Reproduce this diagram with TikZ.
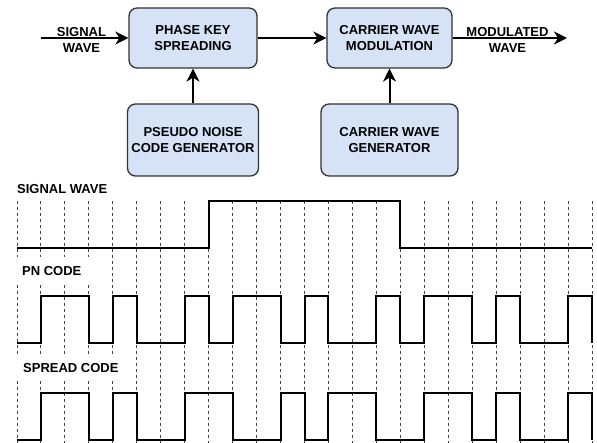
\documentclass[tikz,border=0pt]{standalone}
\usepackage{fontspec}
\setmainfont{Liberation Sans}
\usepackage{xcolor}
\usetikzlibrary{arrows.meta}
\definecolor{boxfill}{HTML}{D6E3F7}
\definecolor{boxline}{HTML}{333333}
\definecolor{gridline}{HTML}{444444}

\begin{document}
\begin{tikzpicture}[
    x=1pt, y=-1pt,
    block/.style={draw=boxline, fill=boxfill, rounded corners=8pt,
                  minimum width=128pt, minimum height=60pt, align=center,
                  font=\fontsize{13}{16}\selectfont\bfseries, line width=1.3pt},
    gen/.style={block, minimum height=72pt},
    lbl/.style={align=center, inner sep=0pt,
                font=\fontsize{13}{16}\selectfont\bfseries},
    wavelbl/.style={fill=white, anchor=west, inner xsep=8pt,
                    minimum height=27pt, font=\fontsize{13}{15}\selectfont\bfseries},
    conn/.style={draw=black, line width=2pt,
                 -{Stealth[length=13pt, width=13pt, inset=4pt]}},
    wave/.style={draw=black, line width=2pt},
    gridl/.style={draw=gridline, line width=1pt, dash pattern=on 3pt off 3pt},
]
\useasboundingbox (0,0) rectangle (597,443);

% Bloques
\node[block] (phase) at (193,38) {PHASE KEY\\SPREADING};
\node[block, minimum width=125pt] (carrmod) at (389.5,38) {CARRIER WAVE\\MODULATION};
\node[gen, minimum width=131pt] (pngen) at (193,140) {PSEUDO NOISE\\CODE GENERATOR};
\node[gen, minimum width=137pt] (carrgen) at (389.5,140) {CARRIER WAVE\\GENERATOR};

\coordinate (sigin) at (41,38);
\coordinate (modout) at (567,38);

% Conexiones
\draw[conn] (sigin) -- (phase);
\draw[conn] (phase) -- (carrmod);
\draw[conn] (carrmod) -- (modout);
\draw[conn] (pngen) -- (phase);
\draw[conn] (carrgen) -- (carrmod);

\node[lbl] (siglbl) at (81.5,40) {SIGNAL\\WAVE};
\node[lbl] (modlbl) at (507.5,40) {MODULATED\\WAVE};

% Formas de onda
\begin{scope}[xshift=17pt, x=23.96pt]
\foreach \k in {0,...,24}
    \draw[gridl] (\k,201) -- (\k,443);

\draw[wave] (0,248) -- (8,248) |- (16,201) |- (24,248);

\draw[wave] (0,343) -- (1,343) |- (3,296) |- (4,343) |- (5,296) |- (7,343)
    |- (8,296) |- (9,343) |- (11,296) |- (12,343) |- (13,296) |- (15,343)
    |- (16,296) |- (17,343) |- (19,296) |- (20,343) |- (21,296) |- (23,343)
    |- (24,296) -- (24,343);

\draw[wave] (0,440) -- (1,440) |- (3,393) |- (4,440) |- (5,393) |- (7,440)
    |- (9,393) |- (11,440) |- (12,393) |- (13,440) |- (15,393) |- (17,440)
    |- (19,393) |- (20,440) |- (21,393) |- (23,440) |- (24,393) -- (24,440);
\end{scope}

\node[wavelbl, fill=none] (siglabel) at (9,189.5) {SIGNAL WAVE};
\node[wavelbl] (pnlabel) at (14,271) {PN CODE};
\node[wavelbl] (spreadlabel) at (15,368) {SPREAD CODE};

\end{tikzpicture}
\end{document}
